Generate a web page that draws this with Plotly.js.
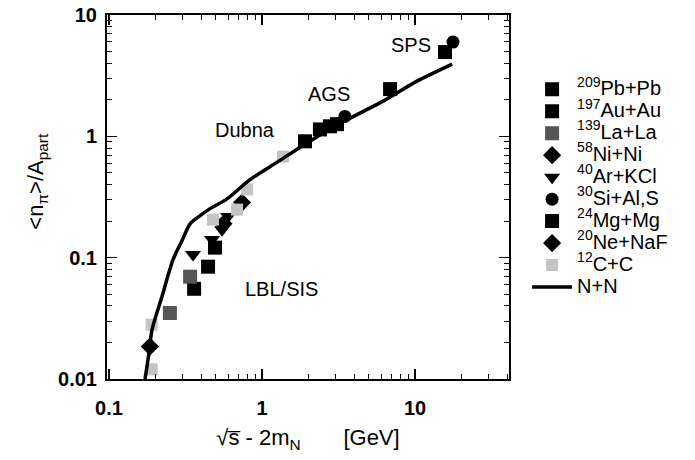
<!DOCTYPE html>
<html>
<head>
<meta charset="utf-8">
<script src="https://cdn.plot.ly/plotly-3.0.1.min.js"></script>
<style>html,body{margin:0;padding:0;background:#fff;}#chart{width:695px;height:460px;}</style>
</head>
<body>
<div id="chart"></div>
<script>
// ---- data ----
const pbX = [15.7];
const pbY = [4.95];
const auX = [0.36, 0.444, 0.493, 2.39, 2.78, 3.09, 6.87];
const auY = [0.0554, 0.0843, 0.121, 1.14, 1.21, 1.26, 2.45];
const laX = [0.25, 0.339];
const laY = [0.035, 0.0697];
const niX = [0.56, 0.74];
const niY = [0.19, 0.285];
const arX = [0.354, 0.471, 0.548, 0.60, 0.74];
const arY = [0.106, 0.141, 0.17, 0.218, 0.27];
const siX = [3.48, 17.7];
const siY = [1.46, 5.98];
const mgX = [1.91];
const mgY = [0.91];
const neX = [0.185];
const neY = [0.0185];
const ccX = [0.19, 0.19, 0.478, 0.687, 0.80, 1.37];
const ccY = [0.012, 0.028, 0.206, 0.249, 0.365, 0.68];
const nnX = [0.172, 0.182, 0.191, 0.222, 0.262, 0.30, 0.339, 0.40, 0.45, 0.59, 0.835, 1.25, 1.77, 2.91, 6.18, 10.3, 17.5];
const nnY = [0.01, 0.016, 0.0254, 0.0478, 0.0962, 0.138, 0.19, 0.225, 0.25, 0.305, 0.44, 0.61, 0.81, 1.19, 1.95, 2.85, 3.94];

const seriesNames = ["<sup>209</sup>Pb+Pb", "<sup>197</sup>Au+Au", "<sup>139</sup>La+La", "<sup>58</sup>Ni+Ni",
  "<sup>40</sup>Ar+KCl", "<sup>30</sup>Si+Al,S", "<sup>24</sup>Mg+Mg", "<sup>20</sup>Ne+NaF", "<sup>12</sup>C+C", "N+N"];

const xTickVals = [0.1, 1, 10];
const xTickText = ["0.1", "1", "10"];
const yTickVals = [0.01, 0.1, 1, 10];
const yTickText = ["0.01", "0.1", "1", "10"];
const xMinorVals = [0.2, 0.3, 0.4, 0.5, 0.6, 0.7, 0.8, 0.9, 2, 3, 4, 5, 6, 7, 8, 9, 20, 30, 40];
const yMinorVals = [0.02, 0.03, 0.04, 0.05, 0.06, 0.07, 0.08, 0.09, 0.2, 0.3, 0.4, 0.5, 0.6, 0.7, 0.8, 0.9, 2, 3, 4, 5, 6, 7, 8, 9];

const labelText = ["SPS", "AGS", "Dubna", "LBL/SIS"];
const labelX = [9.42, 2.74, 0.774, 1.35];
const labelY = [5.65, 2.22, 1.12, 0.0554];

// ---- traces ----
const legendTextSize = 20;
function legName(n) { return '<span style="font-size:' + legendTextSize + 'px">' + n + '</span>'; }
function mk(x, y, name, symbol, color, size) {
  return {x: x, y: y, name: legName(name), type: 'scatter', mode: 'markers',
    marker: {symbol: symbol, color: color, size: size, line: {width: 0}}};
}
const traces = [
  mk(pbX, pbY, seriesNames[0], 'square', '#000', 14),
  mk(auX, auY, seriesNames[1], 'square', '#000', 14),
  mk(laX, laY, seriesNames[2], 'square', '#555', 14),
  mk(niX, niY, seriesNames[3], 'diamond', '#000', 14),
  mk(arX, arY, seriesNames[4], 'triangle-down', '#000', 14),
  mk(siX, siY, seriesNames[5], 'circle', '#000', 13),
  mk(mgX, mgY, seriesNames[6], 'square', '#000', 14),
  mk(neX, neY, seriesNames[7], 'diamond', '#000', 14),
  mk(ccX, ccY, seriesNames[8], 'square', '#c4c4c4', 12),
  {x: nnX, y: nnY, name: legName(seriesNames[9]), type: 'scatter', mode: 'lines',
   line: {color: '#000', width: 3.5, shape: 'spline', smoothing: 0.8}}
];

const FONT = 'Liberation Sans, Arial, sans-serif';
const tickFont = {family: FONT, size: 20, color: '#000', weight: 'bold'};
const axisBase = {
  type: 'log', showgrid: false, zeroline: false, showline: true, linecolor: '#000', linewidth: 2,
  mirror: 'allticks', ticks: 'inside', ticklen: 10, tickwidth: 1.5, tickcolor: '#000',
  tickfont: tickFont, tickmode: 'array'
};

const layout = {
  width: 695, height: 460,
  margin: {l: 107, r: 186, t: 15, b: 81},
  paper_bgcolor: '#fff', plot_bgcolor: '#fff',
  font: {family: FONT, color: '#000'},
  xaxis: Object.assign({}, axisBase, {
    range: [-1.013, 1.614], tickvals: xTickVals, ticktext: xTickText, ticklabelstandoff: 10,
    minor: {tickmode: 'array', tickvals: xMinorVals, ticks: 'inside', ticklen: 5, tickwidth: 1, tickcolor: '#000', showgrid: false},
    title: {text: '√s̅ - 2m<sub>N</sub>&nbsp;&nbsp;&nbsp;&nbsp;&nbsp;&nbsp;&nbsp;[GeV]', font: {size: 22, family: FONT}, standoff: 12}
  }),
  yaxis: Object.assign({}, axisBase, {
    range: [-2, 1], tickvals: yTickVals, ticktext: yTickText, ticklabelstandoff: 4,
    minor: {tickmode: 'array', tickvals: yMinorVals, ticks: 'inside', ticklen: 5, tickwidth: 1, tickcolor: '#000', showgrid: false},
    title: {text: '&nbsp;&nbsp;&nbsp;&nbsp;&nbsp;&lt;n<sub>π</sub>&gt;/A<sub>part</sub>', font: {size: 22, family: FONT}, standoff: 8}
  }),
  showlegend: true,
  legend: {x: 1.045, xanchor: 'left', y: 0.84, yanchor: 'top', bgcolor: 'rgba(0,0,0,0)',
    font: {size: 14.6, family: FONT, color: '#000'}, itemwidth: 40},
  annotations: labelText.map((t, i) => ({
    x: Math.log10(labelX[i]), y: Math.log10(labelY[i]), xref: 'x', yref: 'y', text: t, showarrow: false,
    font: {size: 20, family: FONT, color: '#000'}
  }))
};

Plotly.newPlot('chart', traces, layout, {displayModeBar: false, staticPlot: true});
</script>
</body>
</html>
